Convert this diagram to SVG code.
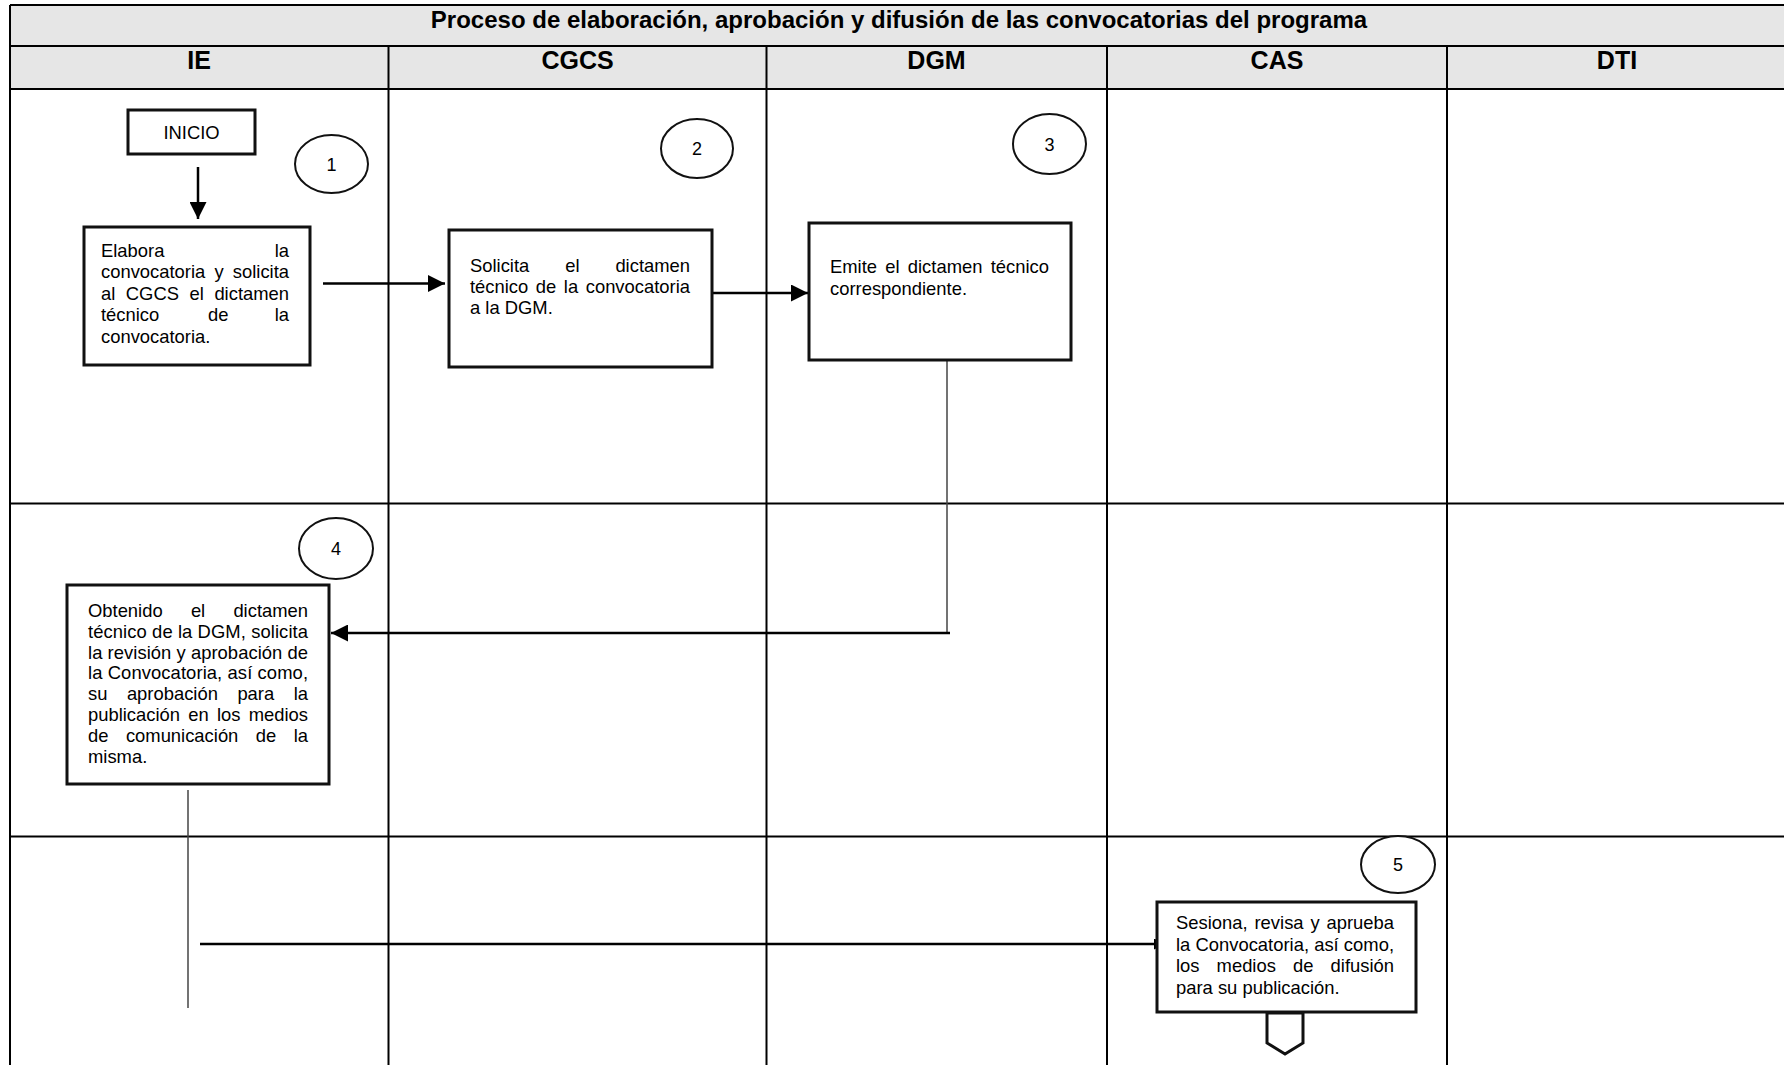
<svg xmlns="http://www.w3.org/2000/svg" width="1784" height="1065" viewBox="0 0 1784 1065">
<defs>
<style>
.grid{stroke:#000;stroke-width:2;fill:none}
.hdr{fill:#e6e6e6}
.ttl{font-family:"Liberation Sans",Arial,sans-serif;font-weight:bold;font-size:24px;fill:#000}
.col{font-family:"Liberation Sans",Arial,sans-serif;font-weight:bold;font-size:25px;fill:#000;text-anchor:middle}
.box{fill:#fff;stroke:#111;stroke-width:3}
.circ{fill:#fff;stroke:#111;stroke-width:2}
.t{font-family:"Liberation Sans",Arial,sans-serif;font-size:18.4px;fill:#000}
.num{font-family:"Liberation Sans",Arial,sans-serif;font-size:18px;fill:#000;text-anchor:middle}
.e{text-anchor:end}
.flow{stroke:#000;stroke-width:2.5;fill:none}
.thin{stroke:#444;stroke-width:1.5;fill:none}
</style>
<marker id="ah" viewBox="0 0 10 10" refX="10" refY="5" markerWidth="17" markerHeight="17" markerUnits="userSpaceOnUse" orient="auto">
<path d="M0,0 L10,5 L0,10 Z" fill="#000"/>
</marker>
<marker id="ahs" viewBox="0 0 10 10" refX="10" refY="5" markerWidth="11" markerHeight="11" markerUnits="userSpaceOnUse" orient="auto">
<path d="M0,0 L10,5 L0,10 Z" fill="#000"/>
</marker>
</defs>
<rect width="1784" height="1065" fill="#fff"/>
<g id="table">
<rect class="hdr" x="10" y="5" width="1780" height="84"/>
<line class="grid" x1="10" y1="5" x2="1784" y2="5" stroke-width="1.5"/>
<line class="grid" x1="10" y1="46" x2="1784" y2="46"/>
<line class="grid" x1="10" y1="89" x2="1784" y2="89"/>
<line class="grid" x1="10" y1="503.5" x2="1784" y2="503.5"/>
<line class="grid" x1="10" y1="836.5" x2="1784" y2="836.5"/>
<line class="grid" x1="10" y1="5" x2="10" y2="1065"/>
<line class="grid" x1="388.5" y1="46" x2="388.5" y2="1065"/>
<line class="grid" x1="766.5" y1="46" x2="766.5" y2="1065"/>
<line class="grid" x1="1107" y1="46" x2="1107" y2="1065"/>
<line class="grid" x1="1447" y1="46" x2="1447" y2="1065"/>
<text class="ttl" x="899" y="28" text-anchor="middle">Proceso de elaboración, aprobación y difusión de las convocatorias del programa</text>
<text class="col" x="199" y="69">IE</text>
<text class="col" x="577.5" y="69">CGCS</text>
<text class="col" x="936.5" y="69">DGM</text>
<text class="col" x="1277" y="69">CAS</text>
<text class="col" x="1617" y="69">DTI</text>
</g>
<g id="connectors">
<line class="flow" x1="198" y1="167" x2="198" y2="219" marker-end="url(#ah)"/>
<line class="flow" x1="323" y1="283.5" x2="445" y2="283.5" marker-end="url(#ah)"/>
<line class="flow" x1="712" y1="293" x2="808" y2="293" marker-end="url(#ah)"/>
<line class="thin" x1="947" y1="360" x2="947" y2="633"/>
<line class="flow" x1="950" y1="633" x2="331" y2="633" marker-end="url(#ah)"/>
<line class="thin" x1="188" y1="790" x2="188" y2="1008"/>
<line class="flow" x1="200" y1="944" x2="1165" y2="944" marker-end="url(#ahs)"/>
</g>
<g id="inicio">
<rect class="box" x="128" y="110" width="127" height="44"/>
<text class="t" x="191.5" y="139" text-anchor="middle">INICIO</text>
</g>
<g id="step1">
<ellipse class="circ" cx="331.5" cy="164" rx="36.5" ry="29"/>
<text class="num" x="331.5" y="170.5">1</text>
</g>
<g id="elabora">
<rect class="box" x="84" y="227" width="226" height="138"/>
<text class="t"><tspan x="101" y="257">Elabora</tspan><tspan class="e" x="289" y="257">la</tspan></text>
<text class="t"><tspan x="101" y="278.4">convocatoria</tspan><tspan x="214.4" y="278.4">y</tspan><tspan class="e" x="289" y="278.4">solicita</tspan></text>
<text class="t"><tspan x="101" y="299.8">al</tspan><tspan x="125.8" y="299.8">CGCS</tspan><tspan x="189.5" y="299.8">el</tspan><tspan class="e" x="289" y="299.8">dictamen</tspan></text>
<text class="t"><tspan x="101" y="321.2">técnico</tspan><tspan x="208" y="321.2">de</tspan><tspan class="e" x="289" y="321.2">la</tspan></text>
<text class="t" x="101" y="342.6">convocatoria.</text>
</g>
<g id="step2">
<ellipse class="circ" cx="697" cy="148.5" rx="36" ry="29.5"/>
<text class="num" x="697" y="155">2</text>
</g>
<g id="solicita">
<rect class="box" x="449" y="230" width="263" height="137"/>
<text class="t"><tspan x="470" y="271.5">Solicita</tspan><tspan x="565.2" y="271.5">el</tspan><tspan class="e" x="690" y="271.5">dictamen</tspan></text>
<text class="t"><tspan x="470" y="292.5">técnico</tspan><tspan x="535.8" y="292.5">de</tspan><tspan x="563.8" y="292.5">la</tspan><tspan class="e" x="690" y="292.5">convocatoria</tspan></text>
<text class="t" x="470" y="313.5">a la DGM.</text>
</g>
<g id="step3">
<ellipse class="circ" cx="1049.5" cy="144" rx="36.5" ry="30"/>
<text class="num" x="1049.5" y="150.5">3</text>
</g>
<g id="emite">
<rect class="box" x="809" y="223" width="262" height="137"/>
<text class="t"><tspan x="830" y="273">Emite</tspan><tspan x="885.3" y="273">el</tspan><tspan x="907.8" y="273">dictamen</tspan><tspan class="e" x="1049" y="273">técnico</tspan></text>
<text class="t" x="830" y="295">correspondiente.</text>
</g>
<g id="step4">
<ellipse class="circ" cx="336" cy="548.5" rx="37" ry="30.5"/>
<text class="num" x="336" y="555">4</text>
</g>
<g id="obtenido">
<rect class="box" x="67" y="585" width="262" height="199"/>
<text class="t"><tspan x="88" y="617">Obtenido</tspan><tspan x="190.9" y="617">el</tspan><tspan class="e" x="308" y="617">dictamen</tspan></text>
<text class="t" x="88" y="637.8" textLength="220" lengthAdjust="spacing">técnico de la DGM, solicita</text>
<text class="t" x="88" y="658.6" textLength="220" lengthAdjust="spacing">la revisión y aprobación de</text>
<text class="t" x="88" y="679.4" textLength="220" lengthAdjust="spacing">la Convocatoria, así como,</text>
<text class="t"><tspan x="88" y="700.2">su</tspan><tspan x="126.9" y="700.2">aprobación</tspan><tspan x="237.4" y="700.2">para</tspan><tspan class="e" x="308" y="700.2">la</tspan></text>
<text class="t"><tspan x="88" y="721">publicación</tspan><tspan x="188.2" y="721">en</tspan><tspan x="216.9" y="721">los</tspan><tspan class="e" x="308" y="721">medios</tspan></text>
<text class="t"><tspan x="88" y="741.8">de</tspan><tspan x="125.9" y="741.8">comunicación</tspan><tspan x="255.8" y="741.8">de</tspan><tspan class="e" x="308" y="741.8">la</tspan></text>
<text class="t" x="88" y="762.6">misma.</text>
</g>
<g id="step5">
<ellipse class="circ" cx="1398" cy="864.5" rx="37" ry="28.5"/>
<text class="num" x="1398" y="871">5</text>
</g>
<g id="sesiona">
<rect class="box" x="1157" y="902" width="259" height="110"/>
<text class="t"><tspan x="1176" y="929">Sesiona,</tspan><tspan x="1254.5" y="929">revisa</tspan><tspan x="1310.4" y="929">y</tspan><tspan class="e" x="1394" y="929">aprueba</tspan></text>
<text class="t" x="1176" y="950.5" textLength="218" lengthAdjust="spacing">la Convocatoria, así como,</text>
<text class="t"><tspan x="1176" y="972">los</tspan><tspan x="1216.6" y="972">medios</tspan><tspan x="1293" y="972">de</tspan><tspan class="e" x="1394" y="972">difusión</tspan></text>
<text class="t" x="1176" y="993.5">para su publicación.</text>
</g>
<g id="offpage">
<path class="box" d="M1267,1013 L1303,1013 L1303,1043 L1285,1054 L1267,1043 Z"/>
</g>
</svg>
